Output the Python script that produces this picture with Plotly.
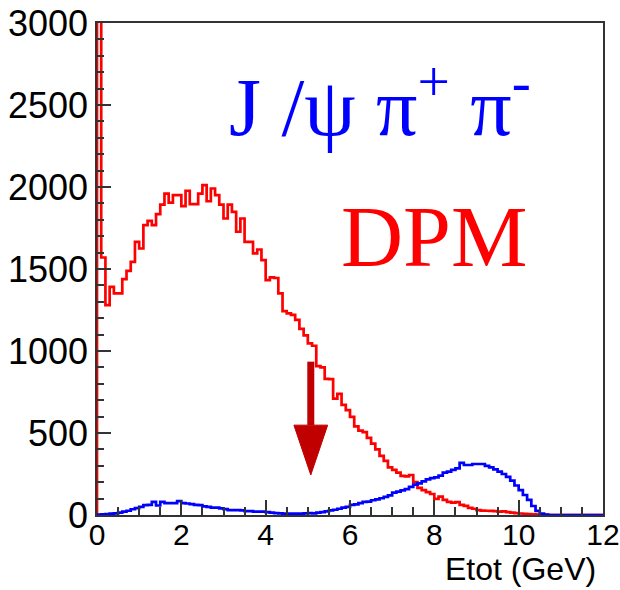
import numpy as np
import plotly.graph_objects as go

# ---- data: 120 bins of 0.1 GeV from 0 to 12 GeV ----
bin_edges = np.round(np.arange(121) * 0.1, 1).tolist()

dpm_counts = [
    3300, 1570, 1280, 1391, 1351, 1351, 1438, 1489, 1544, 1666,
    1625, 1767, 1794, 1767, 1834, 1893, 1960, 1905, 1950, 1950,
    1883, 1977, 1895, 1895, 1960, 2011, 1913, 1991, 1950, 1893,
    1808, 1893, 1848, 1727, 1808, 1666, 1666, 1595, 1619, 1554,
    1432, 1449, 1445, 1351, 1243, 1229, 1220, 1190, 1135, 1095,
    1046, 1032, 908, 900, 830, 828, 710, 738, 672, 640,
    598, 540, 515, 505, 470, 435, 400, 360, 330, 290,
    275, 258, 238, 236, 244, 200, 165, 152, 140, 128,
    98, 112, 92, 80, 75, 78, 62, 56, 44, 38,
    30, 27, 26, 25, 24, 20, 22, 18, 14, 12,
    9, 7, 5, 4, 3, 2, 1, 0, 0, 0,
    0, 0, 0, 0, 0, 0, 0, 0, 0, 0,
]

jpsi_counts = [
    2, 4, 6, 8, 10, 14, 20, 26, 35, 42,
    50, 60, 62, 80, 58, 80, 72, 72, 72, 84,
    72, 70, 66, 62, 60, 52, 50, 45, 45, 40,
    36, 30, 30, 30, 28, 24, 24, 20, 20, 20,
    18, 15, 12, 10, 8, 8, 8, 8, 8, 10,
    12, 10, 14, 18, 22, 28, 32, 38, 45, 50,
    62, 65, 72, 80, 82, 90, 95, 102, 110, 120,
    136, 142, 150, 158, 172, 185, 193, 205, 217, 225,
    230, 240, 258, 265, 275, 284, 318, 305, 305, 311,
    311, 311, 299, 291, 278, 265, 250, 232, 210, 180,
    152, 122, 92, 55, 25, 8, 2, 0, 0, 0,
    0, 0, 0, 0, 0, 0, 0, 0, 0, 0,
]

x_ticks = [0, 2, 4, 6, 8, 10, 12]
y_ticks = [0, 500, 1000, 1500, 2000, 2500, 3000]

# cut arrow (in data coordinates)
arrow_x = 5.07
arrow_top = 935
arrow_head_base = 548
arrow_tip = 244
arrow_half_width = 0.40


def step_xy(counts):
    xs = [bin_edges[0]] + bin_edges
    ys = [0] + counts + [counts[-1]]
    return xs, ys


fig = go.Figure()
rx, ry = step_xy(dpm_counts)
fig.add_trace(go.Scatter(x=rx, y=ry, mode="lines", line_shape="hv",
                         line=dict(color="#ff0000", width=2.7), showlegend=False))
bx, by = step_xy(jpsi_counts)
fig.add_trace(go.Scatter(x=bx, y=by, mode="lines", line_shape="hv",
                         line=dict(color="#0000ff", width=2.7), showlegend=False))

arrow_color = "#c00000"
fig.add_shape(type="line", xref="x", yref="y",
              x0=arrow_x, x1=arrow_x, y0=arrow_top, y1=arrow_head_base,
              line=dict(color=arrow_color, width=7))
fig.add_shape(type="path", xref="x", yref="y",
              path=f"M {arrow_x - arrow_half_width},{arrow_head_base} "
                   f"L {arrow_x + arrow_half_width},{arrow_head_base} "
                   f"L {arrow_x},{arrow_tip} Z",
              fillcolor=arrow_color, line=dict(color=arrow_color, width=1))

fig.add_annotation(xref="paper", yref="paper", x=0.256, y=0.841,
                   xanchor="left", yanchor="middle", showarrow=False,
                   text="J /ψ π<sup>+</sup> π<sup>-</sup>",
                   font=dict(family="Liberation Serif", size=82, color="#0000ff"))
fig.add_annotation(xref="paper", yref="paper", x=0.853, y=0.566,
                   xanchor="right", yanchor="middle", showarrow=False,
                   text="DPM",
                   font=dict(family="Liberation Serif", size=86, color="#ff0000"))
fig.add_annotation(xref="paper", yref="paper", x=0.990, y=-0.150,
                   xanchor="right", yanchor="bottom", showarrow=False,
                   text="Etot (GeV)",
                   font=dict(family="Liberation Sans", size=32, color="black"))

axis_common = dict(showgrid=False, zeroline=False, showline=True, mirror=True,
                   linecolor="#333333", linewidth=1.5, ticks="inside",
                   tickcolor="#333333", tickwidth=1.5, automargin=False)

fig.update_xaxes(range=[0, 12], tickvals=x_ticks, ticklen=15,
                 ticklabelstandoff=-8,
                 tickfont=dict(family="Liberation Sans", size=30, color="black"),
                 minor=dict(dtick=0.5, ticks="inside", ticklen=8,
                            tickcolor="#333333", tickwidth=1.5),
                 **axis_common)
fig.update_yaxes(range=[0, 3000], tickvals=y_ticks, ticklen=14,
                 tickfont=dict(family="Liberation Sans", size=36, color="black"),
                 minor=dict(dtick=100, ticks="inside", ticklen=7,
                            tickcolor="#333333", tickwidth=1.5),
                 **axis_common)

fig.update_layout(width=620, height=590,
                  margin=dict(l=97, r=17, t=23, b=75),
                  paper_bgcolor="white", plot_bgcolor="white")

fig.write_html("out.html")
